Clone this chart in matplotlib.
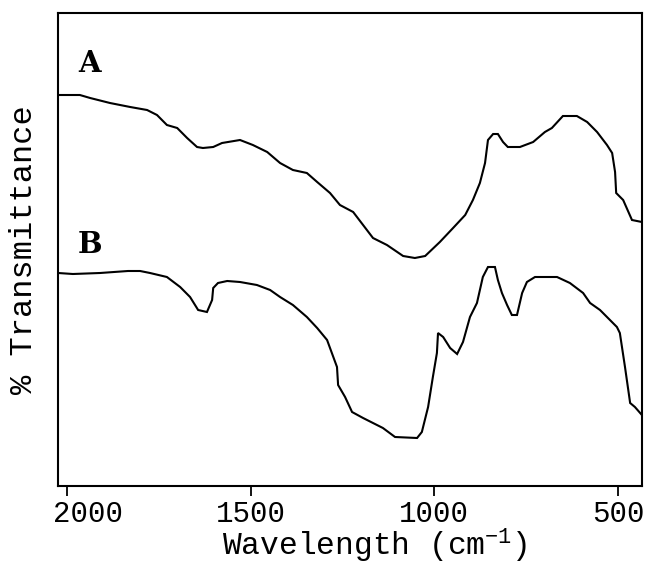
import matplotlib
matplotlib.use("Agg")
import matplotlib.pyplot as plt
import matplotlib.transforms as mtransforms

plt.rcParams['font.family'] = ['Liberation Mono', 'DejaVu Sans Mono']
plt.rcParams['mathtext.default'] = 'regular'

# Spectrum A (wavenumber cm^-1, transmittance arbitrary units)
wn_a = [2024, 1965, 1937, 1883, 1828, 1782, 1755, 1728, 1700, 1673, 1646, 1630,
        1602, 1578, 1529, 1494, 1455, 1420, 1385, 1347, 1319, 1284, 1257, 1221,
        1167, 1129, 1085, 1053, 1025, 985, 949, 916, 895, 876, 862, 854, 840,
        827, 813, 800, 767, 731, 699, 680, 650, 612, 584, 557, 530, 516, 508,
        505, 486, 462, 435]
t_a = [391, 391, 388, 383, 379, 376, 371, 361, 358, 348, 339, 338,
       339, 343, 346, 341, 334, 323, 316, 313, 304, 293, 281, 274,
       248, 241, 230, 228, 230, 244, 258, 271, 286, 303, 323, 346, 352,
       352, 344, 339, 339, 344, 354, 358, 370, 370, 364, 354, 341, 333, 314,
       293, 286, 266, 264]

# Spectrum B
wn_b = [2024, 1984, 1910, 1834, 1801, 1774, 1728, 1692, 1665, 1643, 1619, 1605,
        1602, 1589, 1564, 1529, 1483, 1447, 1420, 1385, 1347, 1319, 1292, 1279,
        1265, 1262, 1243, 1224, 1194, 1140, 1107, 1047, 1034, 1017, 1004, 993,
        990, 976, 957, 938, 922, 903, 884, 868, 854, 835, 827, 816, 802, 789,
        775, 761, 748, 726, 666, 631, 595, 576, 549, 503, 495, 481, 467, 454, 435]
t_b = [213, 212, 213, 215, 215, 213, 209, 199, 189, 176, 174, 186,
       198, 203, 205, 204, 201, 196, 189, 181, 169, 158, 146, 133,
       119, 101, 89, 74, 68, 58, 49, 48, 54, 79, 109, 133,
       153, 149, 138, 132, 144, 169, 183, 209, 219, 219, 206, 193, 181, 171,
       171, 193, 204, 209, 209, 203, 193, 183, 176, 159, 153, 119, 83, 79, 71]

x_ticks = [2000, 1500, 1000, 500]
series_labels = ['A', 'B']

fig = plt.figure(figsize=(6.49, 5.66), dpi=100)
ax = fig.add_axes([58/649, 80/566, 584/649, 473/566])

ax.plot(wn_a, t_a, color='black', lw=1.5, solid_joinstyle='miter')
ax.plot(wn_b, t_b, color='black', lw=1.5, solid_joinstyle='miter')

ax.set_xlim(2024.5, 434.7)
ax.set_ylim(0, 473)
ax.set_yticks([])
ax.set_xticks(x_ticks)
ax.set_xticklabels([str(v) for v in x_ticks])
ax.tick_params(axis='x', direction='out', length=7, width=1.3, labelsize=21, pad=3)
for s in ax.spines.values():
    s.set_linewidth(1.5)

# shift the 2000 label to the right as in the reference
lbl = ax.get_xticklabels()[0]
lbl.set_transform(lbl.get_transform() + mtransforms.ScaledTranslation(21/100, 0, fig.dpi_scale_trans))

ax.set_xlabel('Wavelength (cm$^{-1}$)', fontsize=22.5)
ax.xaxis.label.set_va('baseline')
ax.xaxis.set_label_coords(0.543, -0.148)

ax.set_ylabel('% Transmittance', fontsize=23)
ax.yaxis.label.set_va('center')
ax.yaxis.set_label_coords(-0.058, 0.50)

ax.text(0.034, 0.875, series_labels[0], transform=ax.transAxes, fontsize=21,
        fontweight='bold', family='DejaVu Serif', va='baseline', ha='left')
ax.text(0.034, 0.4926, series_labels[1], transform=ax.transAxes, fontsize=21,
        fontweight='bold', family='DejaVu Serif', va='baseline', ha='left')

fig.savefig('out.png', dpi=100)
